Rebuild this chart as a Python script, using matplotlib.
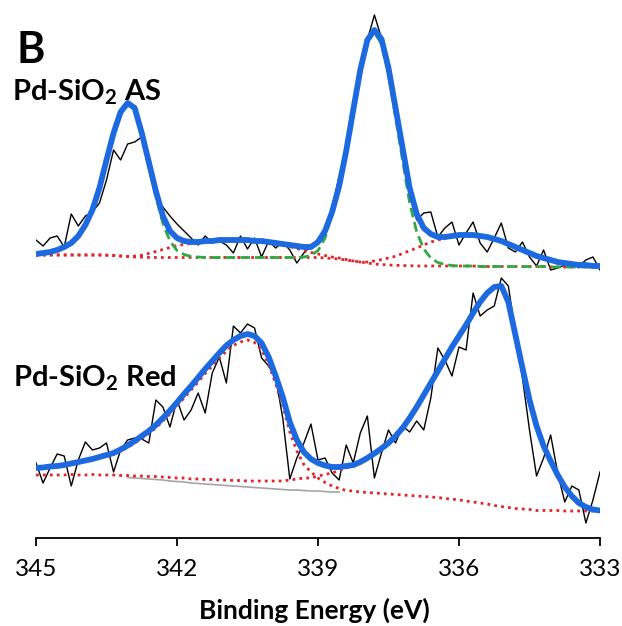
import numpy as np
import matplotlib
matplotlib.use("Agg")
import matplotlib.pyplot as plt

plt.rcParams["font.family"] = ["Lato", "DejaVu Sans"]
plt.rcParams["mathtext.fontset"] = "custom"
plt.rcParams["mathtext.rm"] = "Lato:bold"
plt.rcParams["mathtext.bf"] = "Lato:bold"

# binding energy grid (eV), 0.15 eV step
energy = np.linspace(345, 333, 81)

# ---- Pd-SiO2 AS (upper trace, offset intensity, a.u.) ----
as_raw = [298, 292, 300, 302, 291, 324, 312, 322, 326, 335,
          358, 388, 378, 394, 396, 401, 368, 340, 331, 322,
          314, 307, 300, 293, 302, 295, 297, 293, 285, 302,
          289, 300, 281, 297, 290, 296, 288, 275, 285, 292,
          298, 308, 330, 362, 390, 432, 472, 498, 523, 500,
          472, 425, 385, 345, 318, 325, 326, 301, 310, 316,
          293, 305, 316, 295, 286, 300, 315, 290, 286, 296,
          281, 272, 288, 268, 270, 273, 275, 272, 278, 281, 268]
as_fit = [284, 285, 286, 288, 291, 295, 302, 313, 328, 350,
          378, 405, 426, 435, 430, 405, 376, 347, 322, 307,
          300, 297, 296, 296, 297, 297, 298, 298, 298, 298,
          298, 297, 297, 296, 295, 294, 293, 292, 291, 291,
          296, 307, 326, 352, 387, 428, 468, 498, 508, 499,
          470, 430, 390, 350, 324, 310, 304, 301, 301, 302,
          303, 303, 303, 302, 301, 299, 297, 294, 291, 288,
          285, 282, 280, 278, 276, 275, 274, 273, 273, 272, 272]
as_bg = [283] * 10 + [282.8, 282.5, 282, 281.5, 281, 280.8, 280.6] + [280.5] * 24 + \
        [280, 279.5, 279, 278, 277, 276, 275, 274, 273.5, 273, 272.7, 272.5, 272.3] + \
        [272] * 9 + [271.5] * 10 + [271] * 8
# Pd 3d main components (above background)
as_main = [1, 2, 3, 5, 8, 12, 19, 30, 45, 67,
           95, 122, 144, 153, 148, 122, 91, 61, 34, 16.5,
           7, 3, 1, 0.5] + [0] * 13 + \
          [0, 0.5, 2, 7, 20, 45, 72, 108, 151, 192,
           222, 231, 221, 190, 148, 105, 63, 34, 17, 8,
           3.5, 1.5, 0.5] + [0] * 21
# satellite components (above background)
as_sat = [0] * 14 + [1, 2, 4, 6, 8, 10, 12, 13, 14, 15,
                     16, 16.5, 17, 17.5, 17.5, 17.5, 17, 16.5, 16, 15,
                     14, 13, 11, 9, 7, 5, 3.5, 2.5, 1.5, 1,
                     0.5, 0, 0, 1, 3, 5, 7, 9, 12, 15,
                     18, 21, 24, 26, 28, 29, 30, 31, 31, 30,
                     29, 27, 25, 22, 19, 16, 13, 10, 8, 6,
                     4.5, 3.5, 2.5, 2, 1.5, 1, 1]

# ---- Pd-SiO2 Red (lower trace) ----
red_raw = [75, 55, 70, 84, 82, 52, 78, 96, 88, 90,
           95, 66, 88, 98, 100, 99, 95, 138, 131, 111,
           138, 118, 128, 145, 125, 165, 181, 155, 212, 205,
           214, 210, 180, 172, 160, 120, 59, 80, 95, 114,
           78, 80, 65, 58, 93, 75, 105, 122, 60, 85,
           108, 95, 112, 106, 117, 108, 140, 190, 178, 162,
           191, 188, 245, 222, 228, 232, 260, 252, 205, 160,
           108, 62, 80, 103, 65, 36, 52, 48, 15, 38, 66]
red_fit = [70, 70.5, 71.5, 72, 73, 74.5, 76, 77.5, 79, 81,
           83, 85, 88.5, 92.5, 97, 102, 107, 113, 120, 127.5,
           135.5, 144, 152, 160.5, 169, 177, 185, 192.5, 198, 202,
           204, 202, 195, 181, 162, 141, 116, 98, 86, 79,
           75, 72.5, 71, 71, 72, 73, 76, 80, 84.5, 89.5,
           95, 102, 110, 120, 131, 143, 155, 167, 179, 191,
           202, 213, 225, 236, 245, 251, 252, 236, 203, 170,
           138, 112, 92, 77, 63, 51, 42, 35, 31, 28.5, 27.5]
red_bg = [63] * 6 + [62.5] * 3 + [62] * 2 + \
         [61.5, 61, 60.5, 60, 59.5, 59, 58.5, 58, 57, 56.5,
          56, 55, 54.5, 54, 53.5, 53, 52.5, 52, 51.5, 51,
          50.5, 50, 49.5, 49, 48.5, 48, 48, 47.5, 47, 47,
          46.5, 46, 46, 45.5, 45.5, 45, 44.5, 44, 43.5, 43,
          42.5, 42, 41.5, 41, 40.5, 40, 39.5, 38.5, 38, 37,
          36, 35, 34, 33, 31.5, 30.5, 29.5, 28.5, 28, 27.5, 27] + \
         [27] * 3 + [26.5] * 6
red_p1 = [7, 7.5, 8.5, 9, 10, 11.5, 13, 14.5, 16, 18,
          20, 22, 26, 30, 35, 40, 45.5, 51.5, 59, 67,
          75.5, 84, 93, 101.5, 110.5, 118.5, 126.5, 134.5, 140.5, 144.5,
          147, 145, 138, 124, 105, 84, 58, 39, 26, 19,
          13, 9, 6, 3.5, 2, 1.5] + [1] * 25 + [0.5] * 10
red_p2 = [0] * 5 + [0.5] * 3 + [1] * 3 + \
         [1.5, 1.5, 2, 2, 2.5, 2.5, 3, 3, 3.5, 3.5,
          4, 4, 4.5, 4.5, 5, 5, 5.5, 5.5, 6, 6,
          6.5, 7, 7.5, 8, 8.5, 10, 11, 12.5, 13, 15,
          17, 19, 21.5, 24.5, 26, 30, 34.5, 39.5, 45, 51,
          58.5, 67, 77.5, 89, 101.5, 114, 126.5, 139.5, 152, 164,
          176, 189, 201, 211.5, 219, 221, 206, 174, 141.5, 110,
          84.5, 64.5, 49.5, 35.5, 24, 15, 8.5, 4.5, 2, 1]
gray_start, gray_end = 13, 44   # range where the gray background is drawn

tick_values = [345, 342, 339, 336, 333]

fig = plt.figure(figsize=(6.22, 6.26), dpi=100)
ax = fig.add_axes([36 / 622, 88 / 626, 564 / 622, 538 / 626])

blue = "#1d6ae0"
red = "#e3242b"
green = "#32a842"
dots = (0, (1, 1.5))
dashes = (0, (3.5, 1.8))

e = energy
as_bg = np.array(as_bg)
red_bg = np.array(red_bg)

# upper spectrum
ax.plot(e, as_raw, color="black", lw=1.0, zorder=2)
ax.plot(e, as_bg, color=red, lw=2, ls=dots, zorder=3)
ax.plot(e, as_bg + np.array(as_sat), color=red, lw=2, ls=dots, zorder=3)
ax.plot(e, as_bg + np.array(as_main), color=green, lw=2, ls=dashes, zorder=3)
ax.plot(e, as_fit, color=blue, lw=4.2, zorder=4, solid_capstyle="round")

# lower spectrum
ax.plot(e, red_raw, color="black", lw=1.0, zorder=2)
ax.plot(e[gray_start:gray_end], red_bg[gray_start:gray_end], color="#a6a6a6", lw=1.2, zorder=2.5)
ax.plot(e, red_bg + np.array(red_p1), color=red, lw=2, ls=dots, zorder=3)
ax.plot(e, red_bg + np.array(red_p2), color=red, lw=2, ls=dots, zorder=3)
ax.plot(e, red_fit, color=blue, lw=4.2, zorder=4, solid_capstyle="round")

ax.set_xlim(345, 333)
ax.set_ylim(0, 538)
ax.set_yticks([])
for s in ["left", "right", "top"]:
    ax.spines[s].set_visible(False)
ax.spines["bottom"].set_linewidth(1.3)
ax.set_xticks(tick_values)
ax.set_xticklabels([str(t) for t in tick_values], fontsize=17.5)
ax.tick_params(axis="x", direction="out", length=6, width=1.3, pad=9)


def ftext(x, y, s, **kw):
    fig.text(x / 622, 1 - y / 626, s, va="baseline", **kw)


ftext(314, 619, "Binding Energy (eV)", fontsize=19, fontweight="bold", ha="center")
ftext(17, 63, "B", fontsize=31, fontweight="bold", ha="left")
ftext(12, 100, r"Pd-SiO$_\mathbf{2}$ AS", fontsize=21, fontweight="bold", ha="left")
ftext(13, 386, r"Pd-SiO$_\mathbf{2}$ Red", fontsize=21, fontweight="bold", ha="left")

fig.savefig("out.png", dpi=100)
